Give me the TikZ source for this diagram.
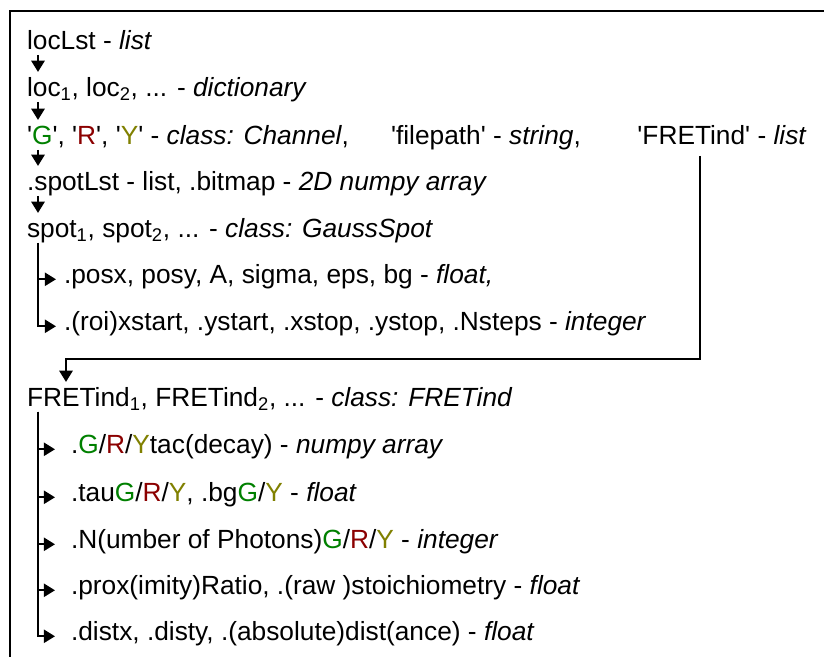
\documentclass[tikz,border=0pt]{standalone}
\usepackage{fontspec}
\setmainfont{Liberation Sans}
\usetikzlibrary{arrows.meta}

\definecolor{chG}{RGB}{0,128,0}
\definecolor{chR}{RGB}{139,0,0}
\definecolor{chY}{RGB}{128,128,0}
\newcommand{\gch}{\textcolor{chG}{G}}
\newcommand{\rch}{\textcolor{chR}{R}}
\newcommand{\ych}{\textcolor{chY}{Y}}
\newcommand{\sq}{\textquotesingle}

\begin{document}
\begin{tikzpicture}[line width=1.5pt,
    lbl/.style={anchor=base west, inner sep=0pt, text height=0.575cm, text depth=0.12cm,
      font=\fontsize{18.7}{22}\selectfont},
    arr/.style={-{Triangle[length=0.28cm,width=0.33cm]}}]
    \useasboundingbox (0,0) rectangle (20.6,-16.425);
    \draw (0.25,-16.425) |- (20.6,-0.275);

    % loaded data, top level
    \node[lbl] (locLst) at (0.65,-1.225) {locLst - \textit{list}};
    \node[lbl] (loc) at (0.65,-2.4) {loc\textsubscript{1}, loc\textsubscript{2}, ... - \textit{dictionary}};
    \node[lbl] (chan) at (0.65,-3.6) {\sq\gch\sq, \sq\rch\sq, \sq\ych\sq\ - \textit{class: Channel},};
    \node[lbl] (fpath) at (9.75,-3.6) {\sq filepath\sq\ - \textit{string},};
    \node[lbl] (fretLst) at (15.91,-3.6) {\sq FRETind\sq\ - \textit{list}};
    \node[lbl] (spotLst) at (0.65,-4.75) {.spotLst - list, .bitmap - \textit{2D numpy array}};
    \node[lbl] (spot) at (0.65,-5.925) {spot\textsubscript{1}, spot\textsubscript{2}, ... - \textit{class: GaussSpot}};
    \node[lbl] (posx) at (1.575,-7.075) {.posx, posy, A, sigma, eps, bg - \textit{float,}};
    \node[lbl] (roi) at (1.575,-8.25) {.(roi)xstart, .ystart, .xstop, .ystop, .Nsteps - \textit{integer}};

    \draw[arr] ([xshift=0.3cm]locLst.south west) -- ([xshift=0.3cm]loc.north west);
    \draw[arr] ([xshift=0.3cm]loc.south west) -- ([xshift=0.3cm]chan.north west);
    \draw[arr] ([xshift=0.3cm]chan.south west) -- ([xshift=0.3cm]spotLst.north west);
    \draw[arr] ([xshift=0.3cm]spotLst.south west) -- ([xshift=0.3cm]spot.north west);
    \draw[arr] ([xshift=0.3cm]spot.south west) |- ([xshift=-0.175cm]posx.mid west);
    \draw[arr] ([xshift=0.3cm]spot.south west) |- ([xshift=-0.175cm]roi.mid west);

    % FRET indicators
    \node[lbl] (fret) at (0.65,-10.15) {FRETind\textsubscript{1}, FRETind\textsubscript{2}, ... - \textit{class: FRETind}};
    \node[lbl] (tac) at (1.75,-11.325) {.\gch/\rch/\ych tac(decay) - \textit{numpy array}};
    \node[lbl] (tau) at (1.75,-12.525) {.tau\gch/\rch/\ych, .bg\gch/\ych\ - \textit{float}};
    \node[lbl] (nph) at (1.75,-13.7) {.N(umber of Photons)\gch/\rch/\ych\ - \textit{integer}};
    \node[lbl] (prox) at (1.75,-14.85) {.prox(imity)Ratio, .(raw )stoichiometry - \textit{float}};
    \node[lbl] (dist) at (1.75,-16.0) {.distx, .disty, .(absolute)dist(ance) - \textit{float}};

    \draw[arr] ([xshift=1.59cm,yshift=-0.15cm]fretLst.south west) -- ++(0,-5.075)
      -| ([xshift=1cm]fret.north west);
    \foreach \c in {tac,tau,nph,prox,dist}
      \draw[arr] ([xshift=0.3cm]fret.south west) |- ([xshift=-0.375cm]\c.mid west);
  \end{tikzpicture}
\end{document}
